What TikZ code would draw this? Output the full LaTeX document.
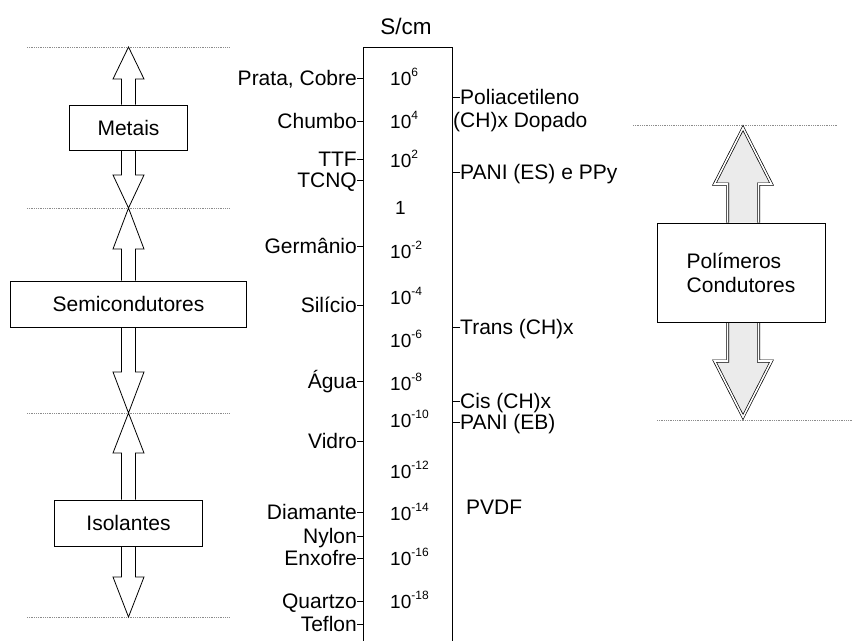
\documentclass[tikz,border=0pt]{standalone}
\usepackage{fontspec}
\setmainfont{Liberation Sans}
\usetikzlibrary{calc}
\pgfdeclarelayer{bg}
\pgfsetlayers{bg,main}

% exponent of a power of ten
\newcommand\sups[1]{\raisebox{9pt}{\fontsize{12}{12}\selectfont #1}}

% open block arrow from a box edge to a tip:
% #1 style, #2 base, #3 tip, #4 shaft half width, #5 head half width, #6 head length
\newcommand\blockarrow[6]{%
  \path[#1] let \p1=#2, \p2=#3, \p3=($#3!#6!#2$) in
    (\x2-#4,\y1) -- (\x2-#4,\y3) -- (\x2-#5,\y3) -- (\x2,\y2)
    -- (\x2+#5,\y3) -- (\x2+#4,\y3) -- (\x2+#4,\y1);}

\begin{document}
\begin{tikzpicture}[x=1pt,y=-1pt,
  lbl/.style={inner sep=0pt, font=\fontsize{21}{24}\selectfont, text height=15pt, text depth=0pt},
  val/.style={inner sep=0pt, anchor=west, font=\fontsize{19}{22}\selectfont, text height=13pt, text depth=0pt},
  classbox/.style={draw, line width=1pt, fill=white, inner sep=0pt, font=\fontsize{21}{24}\selectfont},
  tickline/.style={line width=0.8pt},
  guide/.style={black!45, line width=0.7pt, dash pattern=on 0.8pt off 1pt},
  hollow/.style={draw, line width=0.8pt, fill=white, line join=miter},
  polyarrow/.style={draw=black, line width=0.7pt, double=white, double distance=1.6pt,
                    fill=black!8, line join=miter}]
\useasboundingbox (0,0) rectangle (853,640);

% conductivity scale
\coordinate (sTL) at (363,47);
\coordinate (sTR) at (452,47);
\draw[line width=1pt] (363,645) -- (sTL) -- (sTR) -- (452,645);
\node[lbl, font=\fontsize{22.5}{24}\selectfont] (unit) at (406,27) {S/cm};

% powers of ten
\foreach \nm/\yy/\ex in {p6/79/6,p4/122/4,p2/161/2,m2/252/-2,m4/298/-4,m6/341/-6,
    m8/384/-8,m10/421/-10,m12/472/-12,m14/514/-14,m16/559/-16,m18/602/-18}
  \node[val] (v\nm) at (390,\yy) {10\sups{\ex}};
\node[val] (vzero) at (395,208) {1};

% materials on the left side of the scale
\foreach \nm/\yy/\txt in {prata/78/{Prata, Cobre},chumbo/121/Chumbo,ttf/159/TTF,
    tcnq/180/TCNQ,germ/246/Germânio,sil/305/Silício,agua/381/Água,vidro/441/Vidro,
    diam/512/Diamante,nylon/536/Nylon,enxo/558/Enxofre,quartzo/601/Quartzo,teflon/624/Teflon}
{
  \node[lbl, anchor=east] (\nm) at (357,\yy) {\txt};
  \draw[tickline] (\nm.east) -- (\nm.east -| sTL);
}

% polymers on the right side of the scale
\foreach \nm/\yy/\txt in {poli/97/Poliacetileno,pani/172/{PANI (ES) e PPy},
    trans/327/Trans (CH)x,cis/401/Cis (CH)x,panieb/422/PANI (EB)}
{
  \node[lbl, anchor=west] (\nm) at (460,\yy) {\txt};
  \draw[tickline] (\nm.west) -- (\nm.west -| sTR);
}
\node[lbl, anchor=west] (dopado) at (453,120) {(CH)x Dopado};
\node[lbl, anchor=west] (pvdf) at (466,507) {PVDF};

% classes of materials
\node[classbox, minimum width=118pt, minimum height=45pt] (metais) at (128.5,127.5) {Metais};
\node[classbox, minimum width=236pt, minimum height=46pt] (semi) at (128.5,304) {Semicondutores};
\node[classbox, minimum width=148pt, minimum height=46pt] (isol) at (128.5,523) {Isolantes};
\node[classbox, minimum width=168pt, minimum height=99pt, align=left] (poly) at (741,272.5)
  {Polímeros\\Condutores};

% range limits
\coordinate (g1) at (128.5,47);
\coordinate (g2) at (128.5,208);
\coordinate (g3) at (128.5,413);
\coordinate (g4) at (128.5,617);
\coordinate (r1) at (743,128);
\coordinate (r2) at (743,417);

\begin{pgfonlayer}{bg}
  \foreach \g in {g1,g2,g3,g4}
    \draw[guide] ($(\g)+(-101.5,0)$) -- ($(\g)+(101.5,0)$);
  \draw[guide] (633,125) -- (838,125);
  \draw[guide] (657,420) -- (852,420);

  \blockarrow{hollow}{(metais.north)}{(g1)}{7pt}{15.5pt}{32pt}
  \blockarrow{hollow}{(metais.south)}{(g2)}{7pt}{15.5pt}{33pt}
  \blockarrow{hollow}{(semi.north)}{(g2)}{7pt}{15.5pt}{41pt}
  \blockarrow{hollow}{(semi.south)}{(g3)}{7pt}{15.5pt}{41pt}
  \blockarrow{hollow}{(isol.north)}{(g3)}{7pt}{15.5pt}{40pt}
  \blockarrow{hollow}{(isol.south)}{(g4)}{7pt}{15.5pt}{40pt}

  \blockarrow{polyarrow}{(poly.north -| r1)}{(r1)}{15.5pt}{28.5pt}{56pt}
  \blockarrow{polyarrow}{(poly.south -| r2)}{(r2)}{15.5pt}{28.5pt}{56pt}
\end{pgfonlayer}
\end{tikzpicture}
\end{document}
